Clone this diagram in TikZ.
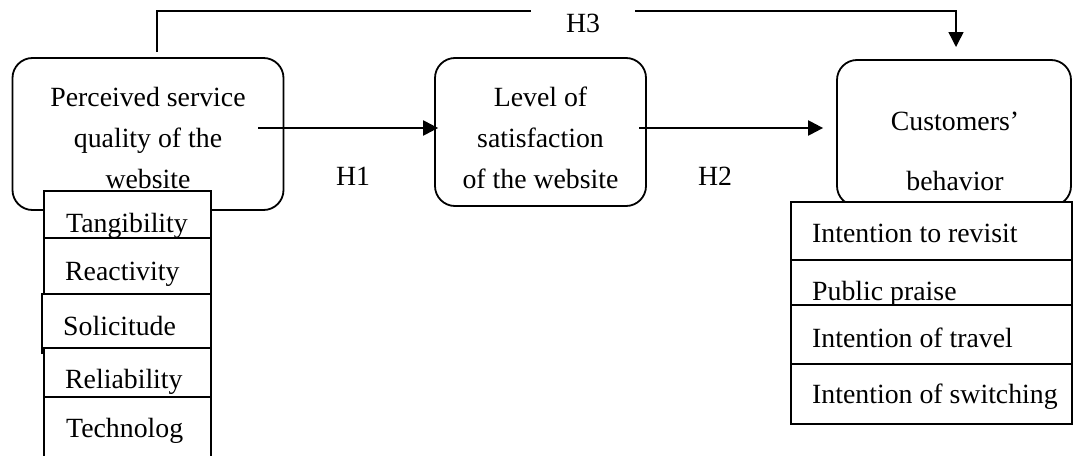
\documentclass[tikz,border=0pt]{standalone}
\usepackage{fontspec}
\setmainfont{Liberation Serif}
\usetikzlibrary{arrows.meta,calc}
\tikzset{
  rbox/.style={draw, line width=1.8pt, rounded corners=20pt, inner sep=0pt, fill=white},
  item/.style={draw, fill=white, line width=1.7pt, inner sep=0pt},
  txt/.style={anchor=base, inner sep=0pt, font=\fontsize{27.8}{33}\selectfont},
  ltxt/.style={anchor=base west, inner sep=0pt, font=\fontsize{27.8}{33}\selectfont},
  arr/.style={line width=2.3pt, -{Triangle[length=15pt,width=15pt]}},
  harr/.style={line width=1.5pt, -{Triangle[length=15pt,width=15pt]}}
}
\begin{document}
\begin{tikzpicture}[x=1pt,y=-1pt]
\clip (0,0) rectangle (1073,455);
\fill[white] (0,0) rectangle (1073,455);
% main boxes
\node[rbox, minimum width=271pt, minimum height=152pt] (q) at (148,134) {};
\node[rbox, minimum width=211pt, minimum height=148pt] (m) at (540.5,132) {};
\node[rbox, minimum width=234pt, minimum height=146pt] (r) at (954,133) {};
% left list
\node[item, minimum width=167pt, minimum height=47pt] (t1) at (127.5,214.5) {};
\node[item, minimum width=167pt, minimum height=56pt] (t2) at (127.5,266) {};
\node[item, minimum width=169pt, minimum height=59pt] (t3) at (126.5,323.5) {};
\node[item, minimum width=167pt, minimum height=49pt] (t4) at (127.5,372.5) {};
\node[item, minimum width=167pt, minimum height=73pt] (t5) at (127.5,433.5) {};
% right list
\node[item, minimum width=281pt, minimum height=58pt] (u1) at (931.5,231) {};
\node[item, minimum width=281pt, minimum height=45pt] (u2) at (931.5,282.5) {};
\node[item, minimum width=281pt, minimum height=59pt] (u3) at (931.5,334.5) {};
\node[item, minimum width=281pt, minimum height=60pt] (u4) at (931.5,394) {};
% box texts
\node[txt] (q1) at (148,106) {Perceived service};
\node[txt] (q2) at (148,147) {quality of the};
\node[txt] (q3) at (148,188) {website};
\node[txt] (m1) at (540.5,106) {Level of};
\node[txt] (m2) at (540.5,147) {satisfaction};
\node[txt] (m3) at (540.5,188) {of the website};
\node[txt] (r1) at (955,130) {Customers’};
\node[txt] (r2) at (955,190) {behavior};
% list texts
\node[ltxt] (tt1) at (66,232) {Tangibility};
\node[ltxt] (tt2) at (65,280) {Reactivity};
\node[ltxt] (tt3) at (63,335) {Solicitude};
\node[ltxt] (tt4) at (65,388) {Reliability};
\node[ltxt] (tt5) at (66,437) {Technolog};
\node[ltxt] (ut1) at (812,242) {Intention to revisit};
\node[ltxt] (ut2) at (812,300) {Public praise};
\node[ltxt] (ut3) at (812,347) {Intention of travel};
\node[ltxt] (ut4) at (812,403) {Intention of switching};
% connectors
\coordinate (h1s) at (258,128);
\draw[arr] (h1s) -- ($(h1s -| m.west)+(4,0)$);
\coordinate (h2s) at (639,128);
\draw[arr] (h2s) -- ($(h2s -| r.west)+(-13,0)$);
\coordinate (h3s) at (157,52);
\coordinate (h3top) at (583,11);
\coordinate (h3e) at (956,47);
\draw[harr] (h3s) |- (h3top) -| (h3e);
% labels
\node[txt, fill=white, minimum width=104pt, inner ysep=5pt] (lh3) at (583,32) {H3};
\node[txt] (lh1) at (353,185) {H1};
\node[txt] (lh2) at (715,185) {H2};
\end{tikzpicture}
\end{document}
